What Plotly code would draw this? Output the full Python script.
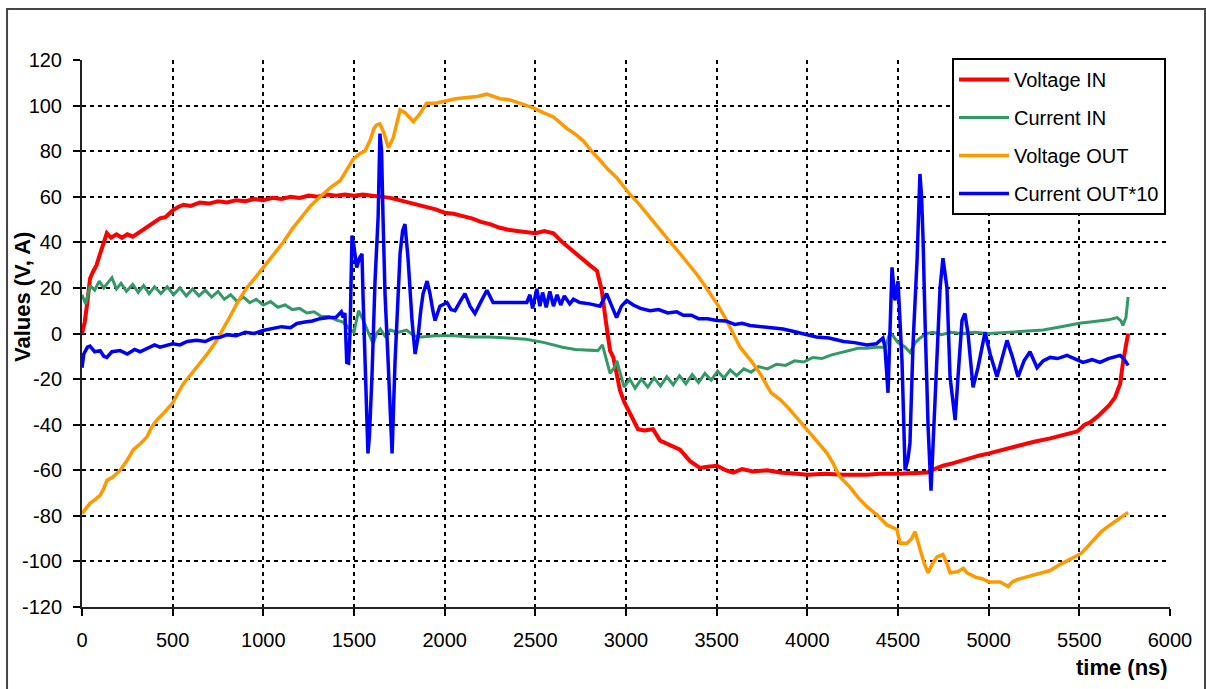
import plotly.graph_objects as go

# ---------------- data ----------------
vin_t = [0,15,30,44,60,80,100,120,137,160,190,220,250,280,310,337,370,400,430,460,
         500,530,560,600,650,700,750,800,850,900,950,1000,1050,1100,1150,1200,1250,1300,1350,1400,
         1450,1500,1550,1600,1650,1700,1750,1800,1850,1900,1950,2000,2050,2100,2150,2200,2250,2300,2350,2400,
         2450,2500,2550,2600,2650,2700,2750,2800,2840,2866,2886,2912,2930,2950,2967,2990,3022,3045,3066,3100,
         3149,3188,3240,3298,3353,3408,3450,3502,3550,3590,3640,3700,3778,3850,3943,4000,4100,4200,4329,4400,
         4505,4600,4660,4700,4748,4800,4880,4950,5002,5080,5156,5250,5339,5420,5488,5530,5559,5600,5631,5665,
         5697,5725,5742,5757,5769]
vin_v = [0,5,14,24,27,30,35,40,44,42,43.5,42,43.5,42.5,44,45.5,47,48.5,50.5,51,
         54,55.5,56.5,56,57.5,57,58,57.5,58.5,58,59,58.5,59.5,59,60,59.5,60.5,60,61,60.5,
         61,60.5,61,60.5,60,59.5,58.5,57.5,56.5,55.5,54.5,53,52.5,51.5,50.5,49,48,46.5,45.5,45,
         44.5,44,45,44,40,36.5,33,30,27.5,19,7,-7.5,-10.5,-18,-25,-30,-35,-39,-42,-42.5,
         -42,-47,-49,-51,-56,-59,-58.5,-58,-60,-61,-59.5,-60.5,-60,-61,-61.5,-62,-61.5,-62,-62,-61.5,
         -61.5,-61,-61,-59.5,-58,-57,-55,-53.5,-52.6,-51,-49,-47.5,-46,-44.5,-43,-40,-39,-36.5,-34,-31.5,
         -28,-22,-12,-4,0]

iin_t = [0,20,45,70,95,120,165,190,215,245,280,310,340,370,400,435,470,505,540,575,
         610,645,680,715,750,785,820,855,890,925,960,1000,1040,1080,1120,1160,1200,1240,1280,1320,
         1360,1400,1440,1470,1500,1525,1550,1575,1605,1625,1645,1670,1700,1740,1790,1830,1870,1950,2050,2150,
         2250,2350,2450,2550,2650,2720,2800,2845,2870,2895,2912,2935,2950,2970,2990,3020,3050,3085,3120,3155,
         3190,3225,3260,3295,3330,3365,3400,3435,3470,3505,3540,3575,3610,3650,3690,3730,3780,3830,3880,3930,
         3980,4030,4080,4130,4180,4230,4280,4330,4380,4430,4456,4472,4500,4540,4566,4595,4621,4660,4693,4740,
         4790,4850,4920,5000,5100,5200,5300,5400,5500,5560,5614,5660,5708,5730,5740,5757,5769]
iin_v = [17,13,21,19,23,20,24.5,19.5,22,18.5,21.5,18,21,17.5,20.5,17.5,20.5,17,20,16.5,
         19.5,16.5,19,16,18.5,15,17,14,16,13.5,15,12.5,14,11.5,12.5,10.5,11,9,9.5,7.5,
         7.5,6,5,2.5,0.5,10,6,1,-4.5,0,2,-1,1.5,0.5,1.5,-1,-1.5,-1,-1,-1.5,
         -1.5,-2,-2.5,-4,-6,-7,-7.5,-7.5,-5,-13,-17.5,-15,-12,-18,-23.5,-20,-24,-20,-23.5,-19.5,
         -23,-19,-22.5,-18.5,-22,-18,-21.5,-17.5,-20.5,-16.5,-19.5,-16,-18.5,-15.5,-17,-14.5,-15.5,-13.5,-14,-12,
         -12.5,-10.5,-11,-9.5,-8.5,-7.5,-6.5,-6.5,-6,-6,0.5,-1,-4,-6,-8.3,-4,-2,0,0.5,-0.5,
         0.5,0,0.5,0,0.5,1,1.5,3,4.5,5,5.7,6,7,5.5,3.5,7,16]

vout_t = [0,20,44,70,100,120,137,170,210,250,283,320,357,385,412,450,500,530,559,600,
          650,700,743,780,820,860,908,950,1000,1050,1110,1160,1210,1260,1313,1370,1423,1460,1496,1533,
          1560,1590,1610,1625,1643,1665,1690,1717,1740,1754,1780,1827,1860,1900,1950,1997,2060,2122,2180,2232,
          2270,2305,2361,2420,2489,2540,2600,2673,2720,2765,2810,2857,2900,2948,2990,3022,3070,3115,3160,3206,
          3250,3298,3340,3390,3430,3463,3510,3555,3590,3629,3690,3739,3800,3850,3888,3940,3998,4050,4109,4142,
          4180,4236,4280,4329,4390,4439,4494,4511,4550,4575,4594,4621,4645,4666,4690,4715,4748,4770,4787,4830,
          4860,4880,4930,4960,5002,5063,5108,5130,5156,5200,5245,5290,5339,5390,5432,5470,5510,5540,5577,5620,
          5652,5690,5725,5769]
vout_v = [-79,-77,-74.5,-73,-71,-68,-64.5,-63,-60,-55.5,-51,-48.5,-45.5,-41,-38,-35,-30.5,-26,-22,-18,
          -13,-8,-3,2,8,14,20,24,29,34,40,46,51,56,60,64,67,72,76.5,79,
          80,85,90,91.5,92,88,81.5,86,94,98,97,93,96,101,101,102,103,103.5,104,105,
          104,103,102.5,101,99,97,95,90,87.5,84.5,80,76,72,68.5,64,61,57,52.5,48.5,44,
          39.5,35,31,26,21.5,17.5,12,5.7,0,-6,-12,-17.5,-26,-29,-32,-37,-42.5,-47,-52.6,-57,
          -63,-67.5,-72,-76,-80,-84,-86,-92,-92,-90,-87,-94,-101,-105,-101,-98,-97,-101,-105,-104.5,
          -103,-105,-107,-107.5,-109,-109,-111,-109,-108,-107,-106,-105,-104,-101.5,-99.6,-98,-96.5,-94,-91,-87,
          -85,-83,-80.7,-78.5]

iout_t = [0,10,30,44,70,100,120,137,165,210,250,290,320,357,400,430,467,500,540,580,
          632,680,720,761,800,850,900,950,998,1050,1100,1150,1185,1230,1270,1312,1360,1400,1430,1440,
          1450,1460,1470,1478,1489,1500,1515,1530,1544,1550,1560,1571,1577,1585,1599,1616,1633,1643,1652,1660,
          1671,1688,1700,1710,1726,1740,1754,1768,1781,1798,1820,1837,1853,1868,1881,1903,1919,1935,1947,1974,
          2013,2035,2057,2085,2112,2140,2167,2200,2233,2267,2320,2380,2453,2470,2485,2508,2525,2540,2560,2580,
          2600,2620,2640,2660,2690,2710,2746,2800,2857,2893,2920,2948,2975,3004,3040,3080,3132,3180,3230,3280,
          3316,3360,3400,3450,3502,3550,3600,3640,3684,3740,3800,3866,3920,3980,4050,4120,4200,4260,4329,4380,
          4417,4428,4445,4467,4483,4500,4522,4539,4555,4566,4583,4605,4621,4630,4638,4649,4666,4682,4693,4715,
          4732,4748,4770,4787,4815,4831,4853,4869,4886,4914,4941,4980,5008,5046,5075,5101,5130,5162,5195,5228,
          5267,5300,5339,5380,5432,5480,5520,5570,5614,5660,5700,5725,5745,5769]
iout_v = [-15,-9,-6,-5.5,-8,-7.5,-10,-10.5,-8,-7.5,-9,-7,-8,-6.5,-5,-6,-5,-4.5,-5,-3.5,
          -3,-3.5,-2,-1.7,-0.5,-1,0.5,0,1.3,2,3,2.5,4.4,5,5.5,6.5,7,7,9.5,7,
          9,-12.7,-13,0,43,38,29,33,35,16,-10,-35,-52.6,-45,-19,23,51,87.7,80,51,
          17.5,-12,-40,-52.6,-13,15,35,45,48,33,5.7,-9,-1.7,10,17.5,23,17.5,10,5.7,12,
          13.6,10.5,10,14,17.5,12,8.8,14,19,13.6,13.5,13.5,13.6,17,11,19.6,12,18,11.5,18.5,
          12,17,12.5,16.5,13,15,13.6,13,12,17.5,12,7,12,14.5,12.5,11,10,10.5,9,9.5,
          8,8,6.5,6.5,5.7,5.5,4,4.5,3.5,3,2.5,2,1,0,-1.5,-2,-3.5,-4,-5,-4.5,
          -2,-6,-26,29,14.5,23,-12,-60,-55,-48,-4.4,32,70,60,42,5.7,-41,-69,-51,-15,
          20,33,20,-19,-38,-19,5.7,8.8,0,-23.6,-15,0.5,-9,-19,-10,-3,-10,-19,-12,-8,
          -15,-12,-10.5,-11,-9.6,-11.5,-12.7,-11.5,-12.7,-11,-10,-9.6,-11,-14]

series_names = ["Voltage IN", "Current IN", "Voltage OUT", "Current OUT*10"]
x_ticks = [0, 500, 1000, 1500, 2000, 2500, 3000, 3500, 4000, 4500, 5000, 5500, 6000]
y_ticks = [-120, -100, -80, -60, -40, -20, 0, 20, 40, 60, 80, 100, 120]
x_grid = [500, 1000, 1500, 2000, 2500, 3000, 3500, 4000, 4500, 5000, 5500]
y_grid = [-100, -80, -60, -40, -20, 0, 20, 40, 60, 80, 100]

for a, b in [(vin_t, vin_v), (iin_t, iin_v), (vout_t, vout_v), (iout_t, iout_v)]:
    assert len(a) == len(b), (len(a), len(b))

colors = ["#FF0000", "#339966", "#FF9900", "#0000FF"]
widths = [4, 3, 3.5, 3.5]
FONT = "Liberation Sans, Arial, sans-serif"

fig = go.Figure()
for i, (t, v) in enumerate([(vin_t, vin_v), (iin_t, iin_v), (vout_t, vout_v), (iout_t, iout_v)]):
    fig.add_trace(go.Scatter(x=t, y=v, mode="lines", name=series_names[i],
                             line=dict(color=colors[i], width=widths[i]),
                             legendgroup=f"g{i}"))

# helper trace so the overlaid grid axes exist
fig.add_trace(go.Scatter(x=[None], y=[None], xaxis="x2", yaxis="y2",
                         showlegend=False, hoverinfo="skip"))

fig.update_layout(
    width=1206, height=689,
    paper_bgcolor="white", plot_bgcolor="white",
    margin=dict(l=82, r=36, t=60, b=82, pad=0),
    font=dict(family=FONT, size=20, color="black"),
    xaxis=dict(range=[0, 6000], tickvals=x_ticks, ticktext=[str(v) for v in x_ticks],
               ticks="outside", ticklen=7, tickwidth=1.5, tickcolor="black",
               showline=True, linecolor="#222", linewidth=2, showgrid=False, zeroline=False,
               ticklabelstandoff=7,
               tickfont=dict(size=20, color="black")),
    yaxis=dict(range=[-120, 120], tickvals=y_ticks, ticktext=[str(v) for v in y_ticks],
               ticks="outside", ticklen=7, tickwidth=1.5, tickcolor="black",
               showline=True, linecolor="#222", linewidth=2, showgrid=False, zeroline=False,
               ticklabelstandoff=7,
               tickfont=dict(size=20, color="black")),
    xaxis2=dict(overlaying="x", range=[0, 6000], tickvals=x_grid, showgrid=True,
                gridcolor="black", griddash="4px,4px", gridwidth=1.5,
                showticklabels=False, ticks="", showline=False, zeroline=False),
    yaxis2=dict(overlaying="y", range=[-120, 120], tickvals=y_grid, showgrid=True,
                gridcolor="black", griddash="4px,4px", gridwidth=1.5,
                showticklabels=False, ticks="", showline=False, zeroline=False),
    legend=dict(x=0.7996, y=1.0037, xanchor="left", yanchor="top",
                bgcolor="white", bordercolor="black", borderwidth=2,
                font=dict(size=20, color="black"), tracegroupgap=9, itemwidth=50),
    showlegend=True,
    annotations=[
        dict(text="<b>time (ns)</b>", xref="paper", yref="paper", x=1.0, y=-0.1115,
             xanchor="right", yanchor="middle", showarrow=False,
             font=dict(size=22, color="black")),
        dict(text="<b>Values (V, A)</b>", xref="paper", yref="paper", x=-0.0551, y=0.5667,
             xanchor="center", yanchor="middle", textangle=-90, showarrow=False,
             font=dict(size=22, color="black")),
    ],
    shapes=[dict(type="rect", xref="paper", yref="paper", x0=-0.0689, x1=1.0322,
                 y0=-0.2, y1=1.0932, line=dict(color="#444", width=2), layer="above")],
)

fig.write_html("out.html", config={"displayModeBar": False},
               post_script="document.body.style.margin='0';document.body.style.padding='0';")
